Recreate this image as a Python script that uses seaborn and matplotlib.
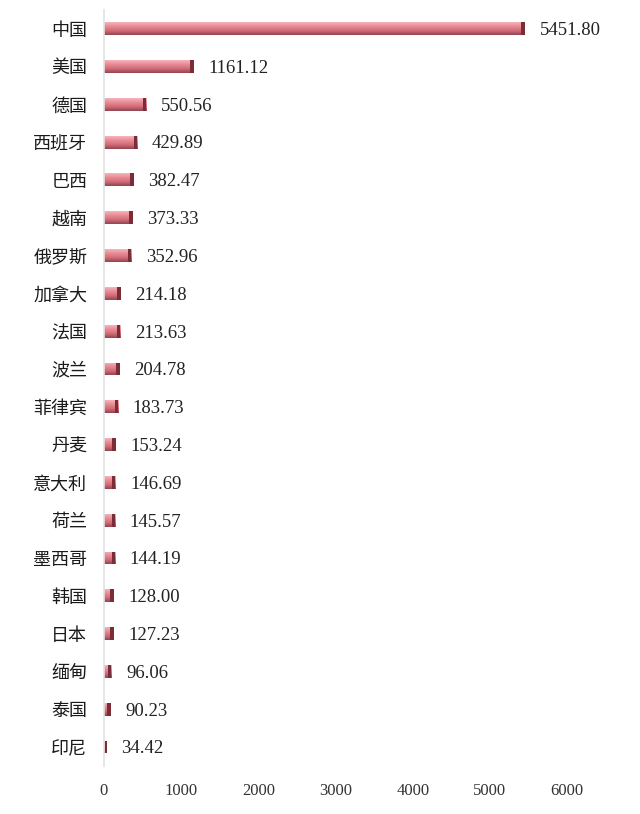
import numpy as np
import pandas as pd
import matplotlib
matplotlib.use('Agg')
import matplotlib.pyplot as plt
import seaborn as sns
from matplotlib.colors import LinearSegmentedColormap

# data
countries = ['中国', '美国', '德国', '西班牙', '巴西', '越南', '俄罗斯', '加拿大', '法国', '波兰',
             '菲律宾', '丹麦', '意大利', '荷兰', '墨西哥', '韩国', '日本', '缅甸', '泰国', '印尼']
values = [5451.80, 1161.12, 550.56, 429.89, 382.47, 373.33, 352.96, 214.18, 213.63, 204.78,
          183.73, 153.24, 146.69, 145.57, 144.19, 128.00, 127.23, 96.06, 90.23, 34.42]
x_ticks = [0, 1000, 2000, 3000, 4000, 5000, 6000]

df = pd.DataFrame({'country': countries, 'value': values})

sns.set_style('white')
plt.rcParams['font.family'] = ['Noto Sans CJK SC', 'DejaVu Sans']

fig = plt.figure(figsize=(6.4, 8.14), dpi=100)
ax = fig.add_axes([0.1625, 0.059, 0.7235, 0.929])

sns.barplot(data=df, x='value', y='country', orient='h', color='#dc7480',
            width=0.34, ax=ax, edgecolor='none')

# fake 3d look: light top, dark bottom, plus a dark end cap
grad_cmap = LinearSegmentedColormap.from_list('bar', ['#f6b4bb', '#e98a95', '#d06c78', '#934450'])
grad = np.linspace(0, 1, 64).reshape(-1, 1)
for patch in ax.patches:
    x0, y0 = patch.get_x(), patch.get_y()
    w, h = patch.get_width(), patch.get_height()
    # y axis is inverted, so the smaller y is the top edge
    im = ax.imshow(grad, cmap=grad_cmap, aspect='auto', extent=[x0, x0 + w, y0 + h, y0],
                   origin='upper', zorder=2)
    im.set_clip_path(patch)
    cap = min(45, w * 0.5)
    ax.fill_between([x0 + w - cap, x0 + w], y0, y0 + h, color='#7a2c37', zorder=3, linewidth=0)

ax.set_xlim(0, 6000)
ax.set_ylim(len(countries) - 0.5, -0.5)

for i, v in enumerate(values):
    ax.text(v + 190, i + 0.05, f'{v:.2f}', va='center', ha='left', fontsize=13.5,
            family='Liberation Serif', color='#222222', clip_on=False)

ax.set_xticks(x_ticks)
ax.set_xticklabels([str(t) for t in x_ticks], family='Liberation Serif', fontsize=12, color='#333333')
ax.tick_params(axis='x', length=0, pad=12)
ax.tick_params(axis='y', length=0, pad=12, labelsize=13, labelcolor='#1a1a1a')
ax.set_xlabel('')
ax.set_ylabel('')

for s in ['top', 'right', 'bottom']:
    ax.spines[s].set_visible(False)
ax.spines['left'].set_color('#e2e2e2')
ax.spines['left'].set_linewidth(1.2)

fig.savefig('out.png', dpi=100, facecolor='white')
